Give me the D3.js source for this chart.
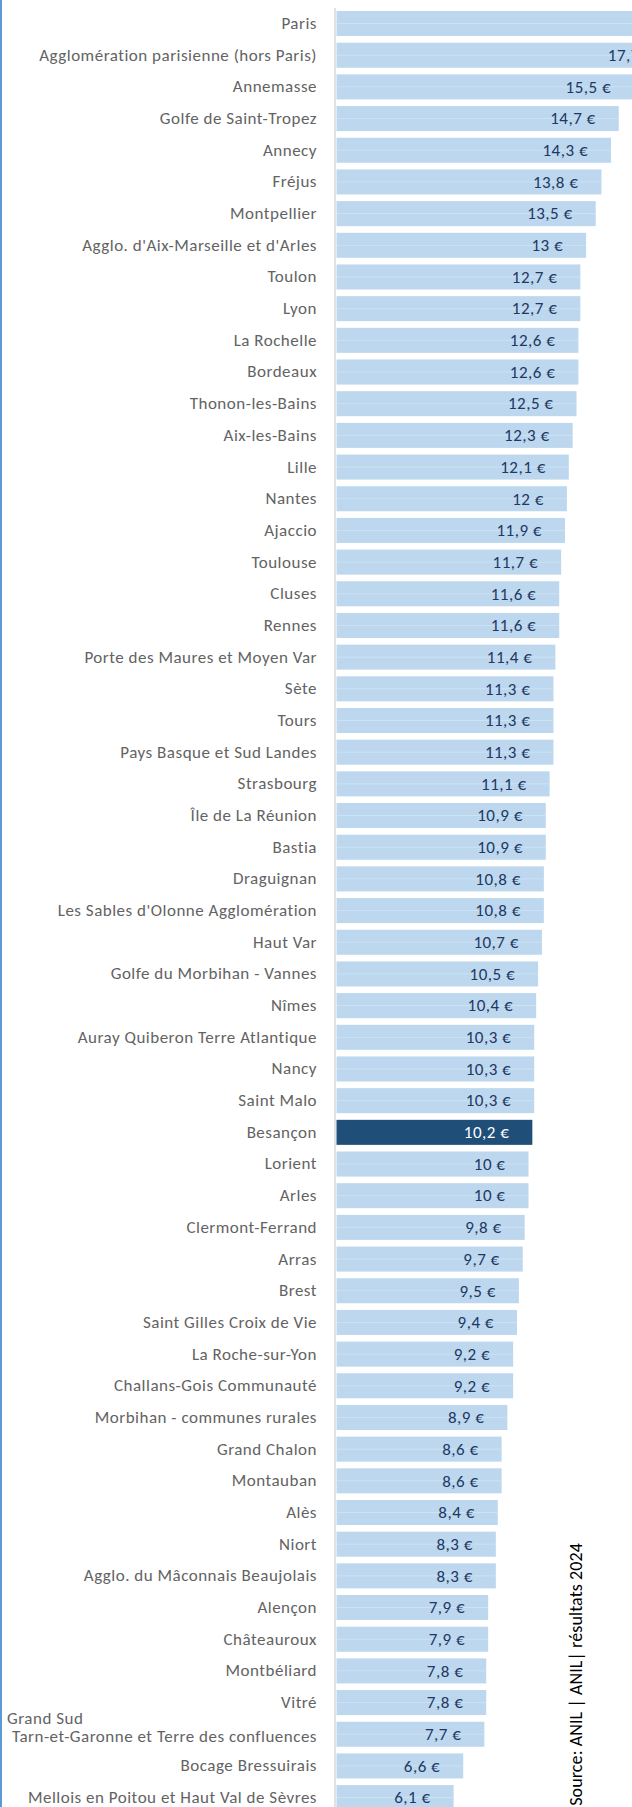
<!DOCTYPE html>
<html>
<head>
<meta charset="utf-8">
<script src="https://cdn.jsdelivr.net/npm/d3@7"></script>
<style>
  body { margin: 0; background: #fff; overflow: hidden; }
  svg { display: block; }
</style>
</head>
<body>
<div id="container"></div>
<script>
// ------ Data ------
const categories = [
  "Paris", "Agglomération parisienne (hors Paris)", "Annemasse", "Golfe de Saint-Tropez",
  "Annecy", "Fréjus", "Montpellier", "Agglo. d'Aix-Marseille et d'Arles", "Toulon", "Lyon",
  "La Rochelle", "Bordeaux", "Thonon-les-Bains", "Aix-les-Bains", "Lille", "Nantes",
  "Ajaccio", "Toulouse", "Cluses", "Rennes", "Porte des Maures et Moyen Var", "Sète",
  "Tours", "Pays Basque et Sud Landes", "Strasbourg", "Île de La Réunion", "Bastia",
  "Draguignan", "Les Sables d'Olonne Agglomération", "Haut Var", "Golfe du Morbihan - Vannes",
  "Nîmes", "Auray Quiberon Terre Atlantique", "Nancy", "Saint Malo", "Besançon", "Lorient",
  "Arles", "Clermont-Ferrand", "Arras", "Brest", "Saint Gilles Croix de Vie",
  "La Roche-sur-Yon", "Challans-Gois Communauté", "Morbihan - communes rurales",
  "Grand Chalon", "Montauban", "Alès", "Niort", "Agglo. du Mâconnais Beaujolais",
  "Alençon", "Châteauroux", "Montbéliard", "Vitré",
  "Grand Sud\nTarn-et-Garonne et Terre des confluences",
  "Bocage Bressuirais", "Mellois en Poitou et Haut Val de Sèvres"
];

const loyers = [
  25.9, 17.7, 15.5, 14.7, 14.3, 13.8, 13.5, 13, 12.7, 12.7,
  12.6, 12.6, 12.5, 12.3, 12.1, 12, 11.9, 11.7, 11.6, 11.6,
  11.4, 11.3, 11.3, 11.3, 11.1, 10.9, 10.9, 10.8, 10.8, 10.7,
  10.5, 10.4, 10.3, 10.3, 10.3, 10.2, 10, 10, 9.8, 9.7,
  9.5, 9.4, 9.2, 9.2, 8.9, 8.6, 8.6, 8.4, 8.3, 8.3,
  7.9, 7.9, 7.8, 7.8, 7.7, 6.6, 6.1
];

const highlight = "Besançon";
const sourceText = "Source: ANIL | ANIL| résultats 2024";

// ------ Global Values ------
const width = 632,
  height = 1807;

const font = "Carlito, 'Open Sans', sans-serif";

const data = categories.map((c, i) => ({ cat: c, value: loyers[i] }));

const svg = d3.select('#container').append('svg')
  .attr('width', width)
  .attr('height', height);

const x = d3.scaleLinear()
  .domain([0, 30])
  .range([336.5, 912.5]);

const y = d3.scaleBand()
  .domain(categories)
  .range([7.7, 7.7 + categories.length * 31.68])
  .paddingInner(0.21)
  .paddingOuter(0.105);

const fr = d3.formatLocale({ decimal: ",", thousands: " ", grouping: [3], currency: ["", " €"] });
const fmt = fr.format(".3~g");

// left border line
svg.append('rect')
  .attr('x', 0).attr('y', 0)
  .attr('width', 2).attr('height', height)
  .attr('fill', '#5B9BD5');

// bars
svg.append('g').attr('id', 'bars')
  .selectAll('rect').data(data)
  .enter().append('rect')
    .attr('x', x(0))
    .attr('y', d => y(d.cat))
    .attr('width', d => x(d.value) - x(0))
    .attr('height', y.bandwidth())
    .attr('fill', d => d.cat === highlight ? '#1F4E79' : '#BDD7EE');

// faint mid line inside the light bars
svg.append('g').attr('id', 'midlines')
  .selectAll('line').data(data.filter(d => d.cat !== highlight))
  .enter().append('line')
    .attr('x1', x(0))
    .attr('x2', d => x(d.value))
    .attr('y1', d => y(d.cat) + y.bandwidth() / 2)
    .attr('y2', d => y(d.cat) + y.bandwidth() / 2)
    .attr('stroke', '#D2E4F4')
    .attr('stroke-width', 0.8);

// category axis line
svg.append('line')
  .attr('x1', x(0) - 1.5).attr('x2', x(0) - 1.5)
  .attr('y1', 8).attr('y2', height)
  .attr('stroke', '#D9D9D9')
  .attr('stroke-width', 1.5);

// category labels
const labels = svg.append('g').attr('id', 'labels')
  .selectAll('text').data(data)
  .enter().append('text')
    .attr('y', d => y(d.cat) + y.bandwidth() / 2)
    .attr('font-family', font)
    .attr('font-size', 17)
    .attr('letter-spacing', 0.5)
    .attr('fill', '#636363');

labels.each(function(d) {
  const lines = d.cat.split("\n");
  const t = d3.select(this);
  if (lines.length === 1) {
    t.append('tspan')
      .attr('x', 317)
      .attr('dy', '0.32em')
      .attr('text-anchor', 'end')
      .text(lines[0]);
  } else {
    t.append('tspan')
      .attr('x', 7)
      .attr('dy', '-0.6em')
      .attr('text-anchor', 'start')
      .text(lines[0]);
    t.append('tspan')
      .attr('x', 317)
      .attr('dy', '1.08em')
      .attr('text-anchor', 'end')
      .text(lines[1]);
  }
});

// value labels
svg.append('g').attr('id', 'values')
  .selectAll('text').data(data)
  .enter().append('text')
    .attr('x', d => x(d.value) - 23)
    .attr('y', d => y(d.cat) + y.bandwidth() / 2)
    .attr('dy', '0.34em')
    .attr('text-anchor', 'end')
    .attr('font-family', font)
    .attr('font-size', 17)
    .attr('letter-spacing', 0.5)
    .attr('fill', d => d.cat === highlight ? '#FFFFFF' : '#203864')
    .text(d => fmt(d.value) + " €");

// source, rotated
svg.append('text')
  .attr('transform', 'translate(582,1543) rotate(-90)')
  .attr('text-anchor', 'end')
  .attr('font-family', font)
  .attr('font-size', 18)
  .attr('letter-spacing', 0.1)
  .attr('fill', '#000')
  .text(sourceText);
</script>
</body>
</html>
